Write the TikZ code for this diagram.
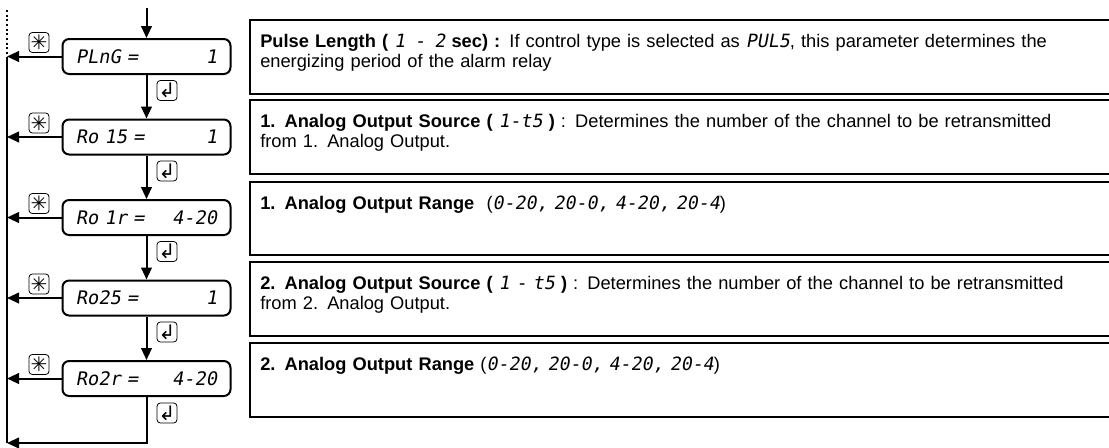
\documentclass[tikz,border=0pt]{standalone}
\usepackage{fontspec}
\setmainfont{Liberation Sans}
\newfontfamily\lcd[FakeSlant=0.18]{DejaVu Sans Mono}
\newfontfamily\symb{DejaVu Sans}
\usepackage{tikz}
\usetikzlibrary{arrows.meta, positioning, calc}

\tikzset{
  disp/.style={draw, line width=1.5pt, rounded corners=5pt, text width=106pt,
    inner xsep=10pt, minimum height=26.25pt, font=\lcd\fontsize{14}{14}\selectfont},
  arr/.style={line width=1.5pt, -{Triangle[width=8pt,length=9pt]}},
  bus/.style={line width=1.5pt},
  icon/.style={draw, line width=0.6pt, rounded corners=2.5pt, minimum size=15pt,
    inner sep=0pt, font=\symb\fontsize{15}{15}\selectfont},
  frame/.style={line width=1.6pt},
  desc/.style={anchor=north west, inner sep=0pt, text width=640pt, align=left,
    font=\fontsize{13.7}{15}\selectfont}
}

\begin{document}
\begin{tikzpicture}[x=0.75pt, y=-0.75pt]
    \useasboundingbox (0,0) rectangle (1109,447);

    % displays
    \node[disp] (plng) at (146.5,56.5) {PLnG =\hfill 1};
    \node[disp] (aois) at (146.5,137) {Ro 15 =\hfill 1};
    \node[disp] (aoir) at (146.5,217.5) {Ro 1r = \hfill 4-20};
    \node[disp] (aots) at (146.5,298) {Ro25 =\hfill 1};
    \node[disp] (aotr) at (146.5,378.5) {Ro2r =\hfill 4-20};

    % keys
    \node[icon] (star1) at (39,42.5) {✳};
    \node[icon] (star2) at (39,123) {✳};
    \node[icon] (star3) at (39,203.5) {✳};
    \node[icon] (star4) at (39,284) {✳};
    \node[icon] (star5) at (39,364.5) {✳};

    \node[icon] (enter1) at (167,90.5) {↲};
    \node[icon] (enter2) at (167,171) {↲};
    \node[icon] (enter3) at (167,251.5) {↲};
    \node[icon] (enter4) at (167,332) {↲};
    \node[icon] (enter5) at (167,413) {↲};

    % flow
    \coordinate (entry) at (146.5,8);
    \coordinate (dottop) at (7,10);
    \coordinate (bustop) at (7,56.5);
    \coordinate (busend) at (7,443);

    \draw[bus, dotted] (dottop) -- (bustop);
    \draw[bus] (bustop) -- (busend);

    \draw[arr] (entry) -- (plng);
    \draw[arr] (plng) -- (aois);
    \draw[arr] (aois) -- (aoir);
    \draw[arr] (aoir) -- (aots);
    \draw[arr] (aots) -- (aotr);
    \draw[arr] (aotr.south) |- (busend);

    \draw[arr] (plng.west) -- (plng.west -| bustop);
    \draw[arr] (aois.west) -- (aois.west -| bustop);
    \draw[arr] (aoir.west) -- (aoir.west -| bustop);
    \draw[arr] (aots.west) -- (aots.west -| bustop);
    \draw[arr] (aotr.west) -- (aotr.west -| bustop);

    % description frames
    \draw[frame] (1109,20) -| (250,94) -- (1109,94);
    \draw[frame] (1109,100) -| (250,174) -- (1109,174);
    \draw[frame] (1109,182) -| (250,255) -- (1109,255);
    \draw[frame] (1109,262) -| (250,336) -- (1109,336);
    \draw[frame] (1109,343) -| (250,417) -- (1109,417);

    \node[desc] (desc1) at (260,34) {\textbf{Pulse Length (}\ {\lcd 1\enspace -\enspace 2} \textbf{sec) :} If control type is selected as {\lcd PUL5}, this parameter determines the\\ energizing period of the alarm relay};
    \node[desc] (desc2) at (260,114) {\textbf{1. Analog Output Source (} {\lcd 1-t5} \textbf{)} : Determines the number of the channel to be retransmitted\\ from 1. Analog Output.};
    \node[desc] (desc3) at (260,196) {\textbf{1. Analog Output Range}\ \ ({\lcd 0-20, 20-0, 4-20, 20-4})};
    \node[desc] (desc4) at (260,276) {\textbf{2. Analog Output Source (} {\lcd 1 - t5} \textbf{)} : Determines the number of the channel to be retransmitted\\ from 2. Analog Output.};
    \node[desc] (desc5) at (260,357) {\textbf{2. Analog Output Range} ({\lcd 0-20, 20-0, 4-20, 20-4})};
\end{tikzpicture}
\end{document}
